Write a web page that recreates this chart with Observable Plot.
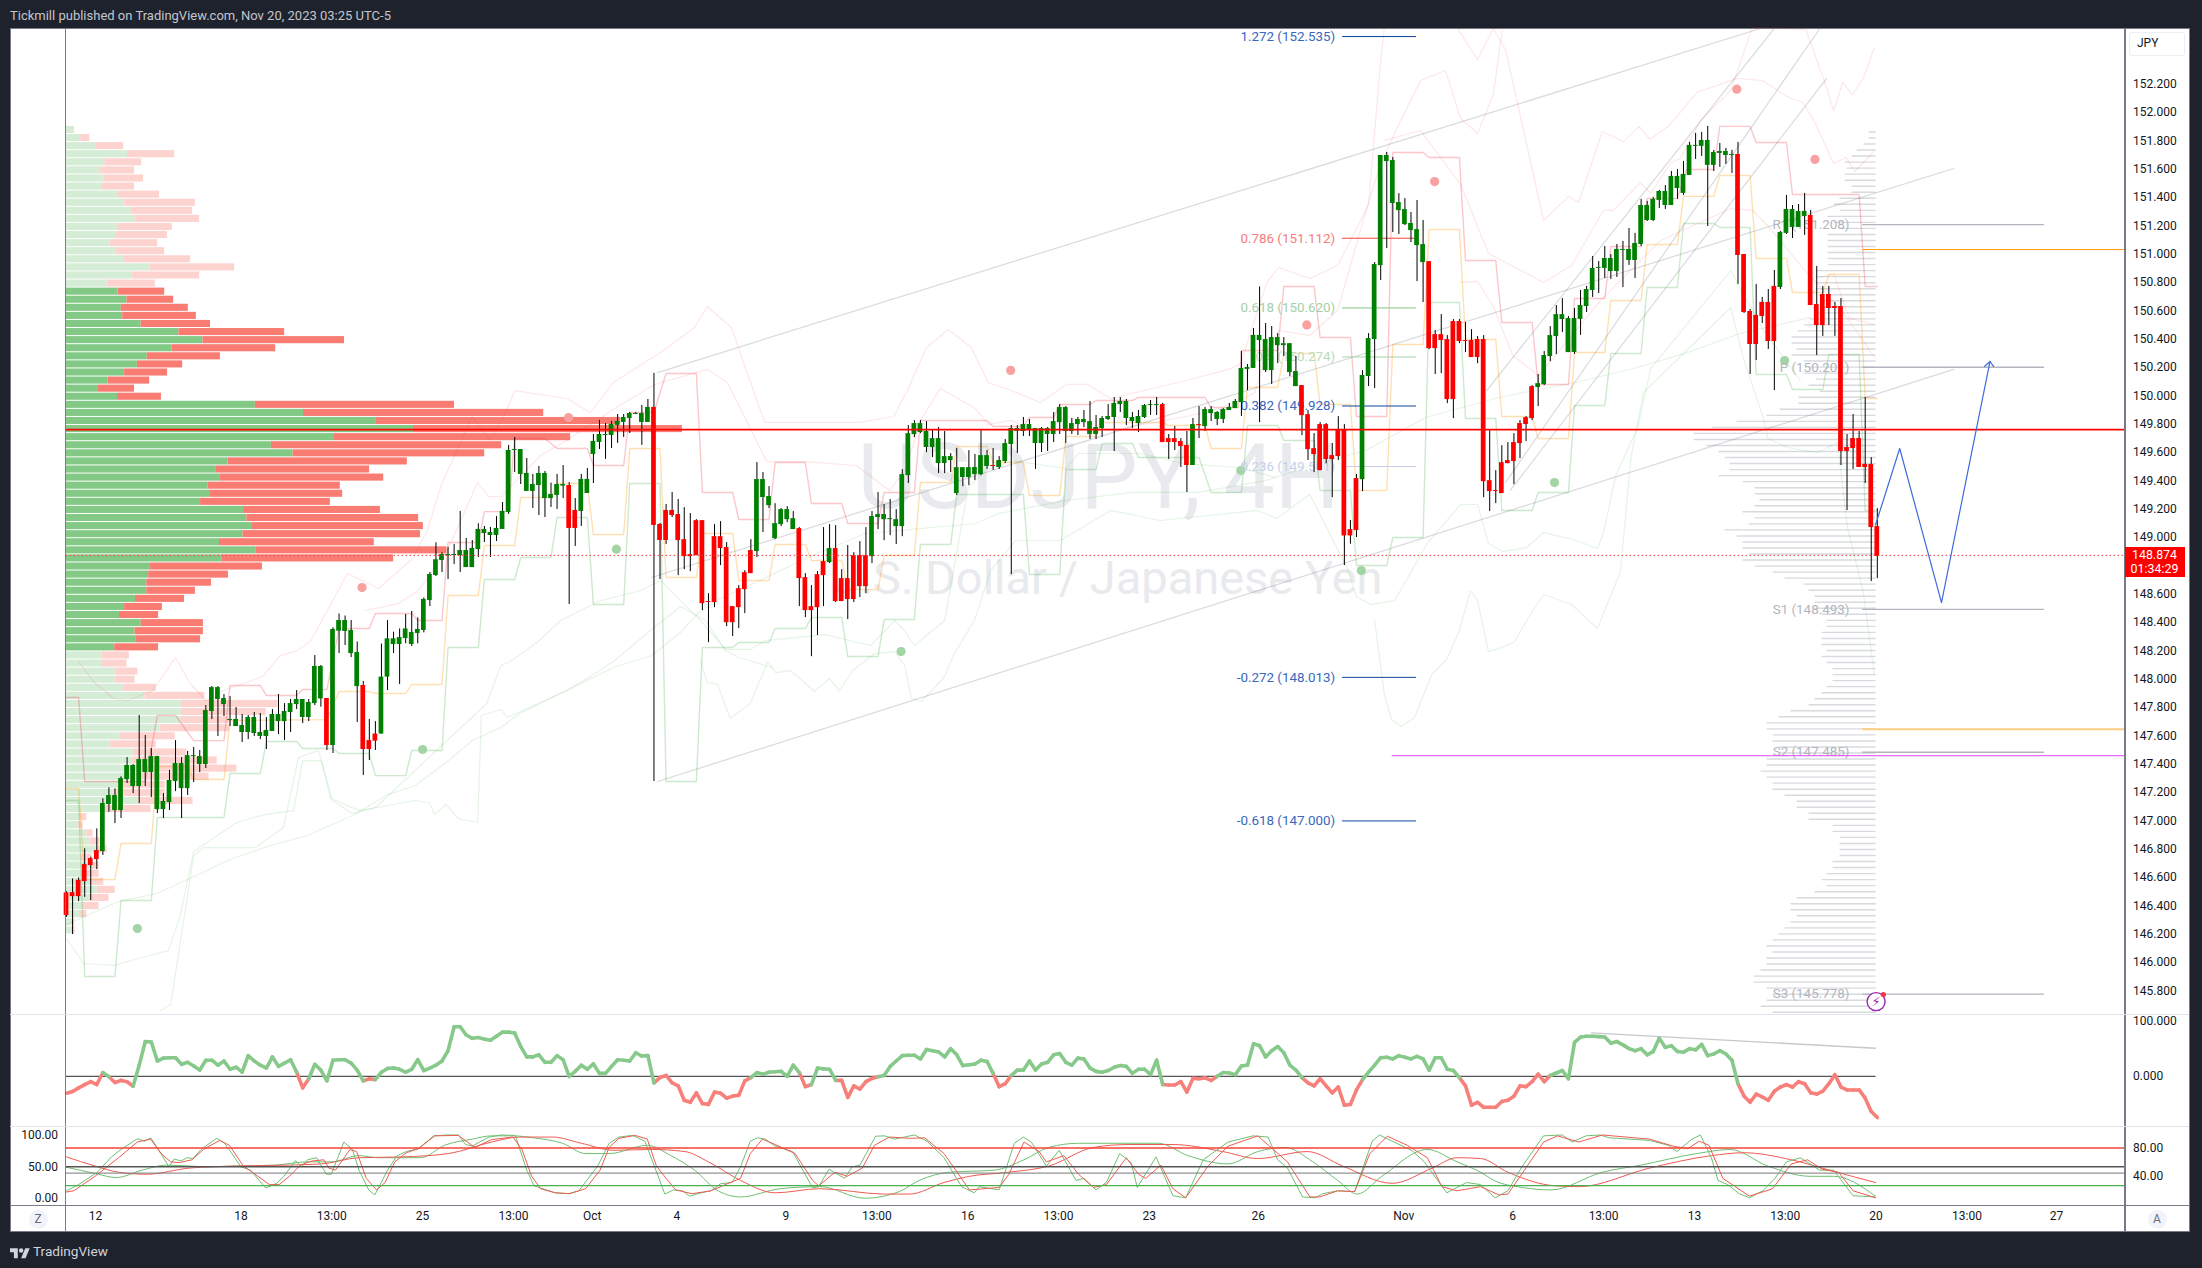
<!DOCTYPE html>
<html><head><meta charset="utf-8"><title>USDJPY 4H</title>
<script src="https://cdn.jsdelivr.net/npm/d3@7"></script>
<script src="https://cdn.jsdelivr.net/npm/@observablehq/plot@0.6"></script>
<style>
html,body{margin:0;padding:0;background:#1e222d;}
body{position:relative;width:2202px;height:1268px;overflow:hidden;font-family:Roboto,"Liberation Sans",sans-serif;}
.abs{position:absolute;}
svg.plot-pane{position:absolute;left:10px;background:transparent;}
</style></head><body>
<script>
const bodyHigh=[146.492,146.494,146.581,146.692,146.734,146.791,147.123,147.179,147.179,147.299,
147.391,147.391,147.433,147.433,147.454,147.454,147.137,147.285,147.405,147.405,
147.461,147.461,147.454,147.779,147.941,147.941,147.864,147.716,147.716,147.673,
147.730,147.730,147.624,147.638,147.751,147.751,147.772,147.828,147.857,147.857,
147.836,148.090,148.090,147.864,148.351,148.414,148.414,148.344,148.188,147.956,
147.567,147.613,148.015,148.285,148.285,148.294,148.355,148.330,148.351,148.563,
148.739,148.843,148.880,148.880,148.880,148.908,148.908,148.923,149.057,149.057,
149.035,149.064,149.184,149.614,149.621,149.621,149.452,149.374,149.452,149.452,
149.304,149.374,149.374,149.367,149.191,149.410,149.410,149.678,149.727,149.727,
149.798,149.819,149.847,149.875,149.875,149.875,149.918,149.918,149.092,149.191,
149.191,149.162,148.985,148.879,149.119,149.119,148.548,149.006,149.006,148.929,
148.512,148.639,148.752,148.908,149.409,149.409,149.289,149.098,149.197,149.197,
149.133,149.063,148.717,148.512,148.738,148.830,148.922,148.922,148.710,148.710,
148.872,148.872,148.872,149.148,149.162,149.162,149.133,149.126,149.444,149.733,
149.804,149.804,149.748,149.698,149.698,149.571,149.571,149.493,149.493,149.493,
149.494,149.578,149.578,149.508,149.543,149.663,149.769,149.769,149.797,149.797,
149.769,149.769,149.769,149.818,149.917,149.917,149.804,149.833,149.833,149.818,
149.776,149.840,149.854,149.946,149.960,149.960,149.847,149.854,149.931,149.938,
149.938,149.938,149.698,149.698,149.677,149.649,149.797,149.797,149.903,149.903,
149.882,149.903,149.917,149.960,150.193,150.200,150.426,150.426,150.397,150.411,
150.411,150.368,150.368,150.171,150.072,149.867,149.627,149.797,149.797,149.578,
149.761,149.761,149.056,149.416,150.143,150.404,150.926,151.696,151.696,151.660,
151.364,151.314,151.216,151.173,151.067,150.947,150.432,150.432,150.397,150.524,
150.524,150.390,150.390,150.397,150.397,149.401,149.331,149.528,149.543,149.670,
149.804,149.846,150.065,150.086,150.284,150.425,150.573,150.573,150.545,150.546,
150.637,150.750,150.899,150.906,150.969,150.969,151.033,151.033,151.033,151.075,
151.343,151.343,151.386,151.442,151.442,151.548,151.548,151.562,151.767,151.767,
151.802,151.802,151.717,151.724,151.724,151.703,151.703,150.997,150.595,150.567,
150.659,150.659,150.772,151.153,151.315,151.315,151.301,151.301,151.273,150.644,
150.715,150.715,150.630,150.630,149.635,149.699,149.699,149.515,149.515,149.077];
const bodyLow=[146.332,146.466,146.466,146.572,146.685,146.727,146.784,147.116,147.073,147.073,
147.292,147.243,147.243,147.341,147.341,147.080,147.080,147.130,147.278,147.228,
147.228,147.454,147.398,147.398,147.772,147.857,147.821,147.708,147.666,147.624,
147.624,147.617,147.596,147.596,147.631,147.701,147.701,147.765,147.821,147.730,
147.730,147.828,147.861,147.532,147.532,148.339,148.337,148.181,147.948,147.504,
147.504,147.563,147.613,148.015,148.245,148.245,148.287,148.245,148.323,148.344,
148.555,148.732,148.838,148.873,148.873,148.873,148.788,148.788,148.915,149.028,
149.014,149.014,149.057,149.177,149.614,149.445,149.325,149.325,149.367,149.275,
149.275,149.297,149.363,149.064,149.064,149.184,149.311,149.586,149.671,149.720,
149.720,149.791,149.812,149.840,149.868,149.812,149.812,149.085,148.979,148.979,
149.155,148.978,148.865,148.865,148.872,148.533,148.541,148.541,148.922,148.399,
148.399,148.505,148.632,148.745,148.901,149.282,149.225,148.992,149.091,149.126,
149.056,148.710,148.484,148.484,148.505,148.731,148.823,148.548,148.548,148.562,
148.562,148.653,148.653,148.865,149.141,149.126,149.126,149.077,149.077,149.437,
149.726,149.741,149.635,149.635,149.522,149.522,149.543,149.310,149.423,149.423,
149.444,149.444,149.501,149.501,149.494,149.536,149.656,149.750,149.748,149.762,
149.663,149.663,149.727,149.727,149.811,149.748,149.748,149.797,149.811,149.727,
149.727,149.769,149.833,149.847,149.938,149.840,149.818,149.804,149.847,149.931,
149.931,149.670,149.670,149.670,149.642,149.508,149.508,149.790,149.783,149.875,
149.833,149.833,149.896,149.910,149.953,150.186,150.193,150.390,150.178,150.178,
150.354,150.354,150.164,150.065,149.860,149.620,149.585,149.472,149.550,149.550,
149.571,149.011,149.011,149.049,149.408,150.136,150.397,150.919,151.653,151.357,
151.307,151.208,151.166,151.060,150.940,150.333,150.333,150.390,149.973,149.973,
150.383,150.383,150.270,150.270,149.394,149.324,149.324,149.310,149.521,149.536,
149.663,149.797,149.839,150.058,150.079,150.277,150.418,150.538,150.305,150.306,
150.539,150.630,150.743,150.899,150.899,150.877,150.877,151.026,150.955,150.955,
151.068,151.237,151.237,151.379,151.343,151.343,151.463,151.428,151.555,151.760,
151.760,151.626,151.626,151.710,151.696,151.696,150.990,150.588,150.362,150.362,
150.560,150.383,150.383,150.764,151.146,151.188,151.188,151.266,150.637,150.496,
150.496,150.616,150.616,149.607,149.607,149.628,149.494,149.494,149.070,148.866];
const wickHigh=[146.50,146.591,146.598,146.803,146.744,146.944,147.156,147.233,147.226,147.311,
147.447,147.398,147.744,147.603,147.511,147.456,147.193,147.356,147.567,147.447,
147.490,147.518,147.497,147.814,147.948,147.948,147.892,147.878,147.800,147.751,
147.744,147.765,147.758,147.730,147.786,147.892,147.828,147.857,147.920,147.857,
147.857,148.167,148.097,147.864,148.363,148.460,148.446,148.414,148.263,147.984,
147.716,147.701,148.248,148.414,148.332,148.355,148.457,148.478,148.433,148.574,
148.753,148.963,148.892,148.930,148.951,149.184,148.993,148.979,149.097,149.078,
149.071,149.148,149.247,149.650,149.706,149.621,149.558,149.445,149.501,149.466,
149.384,149.445,149.508,149.388,149.275,149.445,149.487,149.727,149.826,149.805,
149.819,149.868,149.868,149.883,149.883,149.932,149.974,150.158,149.099,149.233,
149.318,149.268,149.211,149.169,149.126,149.119,148.604,149.091,149.112,148.964,
148.512,148.661,148.766,148.985,149.529,149.458,149.359,149.239,149.204,149.218,
149.183,149.070,148.745,148.661,148.759,149.070,149.091,149.084,148.773,148.943,
148.893,148.971,149.070,149.183,149.317,149.232,149.268,149.197,149.479,149.790,
149.825,149.825,149.818,149.755,149.776,149.748,149.592,149.628,149.493,149.613,
149.586,149.762,149.614,149.628,149.571,149.691,149.790,149.790,149.847,149.833,
149.769,149.776,149.776,149.882,149.938,149.924,149.840,149.847,149.896,149.960,
149.861,149.854,149.938,149.988,149.988,149.974,149.882,149.896,149.938,149.967,
149.988,149.946,149.727,149.783,149.698,149.748,149.840,149.924,149.917,149.924,
149.889,149.910,149.946,149.974,150.313,150.221,150.475,150.768,150.510,150.489,
150.439,150.411,150.368,150.277,150.072,149.896,149.733,149.811,149.804,149.663,
149.853,149.797,149.120,149.445,150.178,150.439,150.940,151.696,151.717,151.681,
151.427,151.392,151.293,151.378,151.237,150.947,150.460,150.573,150.425,150.538,
150.538,150.517,150.467,150.418,150.425,149.754,149.472,149.648,149.670,149.733,
149.825,149.853,150.072,150.150,150.312,150.488,150.637,150.686,150.559,150.616,
150.743,150.772,150.983,150.948,151.054,150.997,151.068,151.089,151.181,151.146,
151.386,151.372,151.400,151.449,151.484,151.583,151.597,151.654,151.788,151.852,
151.859,151.901,151.732,151.781,151.746,151.732,151.788,150.997,150.609,150.786,
150.694,150.750,150.884,151.160,151.414,151.343,151.350,151.428,151.308,150.913,
150.772,150.772,150.659,150.687,149.727,149.868,149.748,149.988,149.564,149.204];
const wickLow=[146.32,146.198,146.431,146.461,146.438,146.657,146.756,147.061,146.981,147.017,
147.264,147.193,147.123,147.243,147.165,147.052,147.017,147.073,147.207,147.017,
147.179,147.271,147.341,147.370,147.716,147.596,147.737,147.666,147.666,147.553,
147.574,147.596,147.574,147.504,147.631,147.610,147.567,147.624,147.786,147.687,
147.701,147.814,147.803,147.497,147.476,148.181,148.238,148.153,147.694,147.320,
147.426,147.497,147.613,147.920,148.181,147.963,148.250,148.231,148.250,148.327,
148.513,148.725,148.753,148.704,148.810,148.753,148.788,148.788,148.859,148.965,
148.859,148.972,149.057,149.163,149.459,149.374,149.325,149.205,149.155,149.141,
149.212,149.198,149.275,148.527,148.937,149.078,149.311,149.381,149.621,149.551,
149.628,149.664,149.706,149.734,149.868,149.650,149.812,147.278,148.704,148.951,
149.141,148.731,148.773,148.759,148.872,148.484,148.258,148.505,148.802,148.371,
148.301,148.357,148.463,148.745,148.858,149.035,149.204,148.985,149.077,149.105,
149.056,148.512,148.435,148.159,148.308,148.512,148.816,148.541,148.548,148.421,
148.541,148.576,148.604,148.816,149.056,148.978,149.013,148.950,149.006,149.381,
149.705,149.733,149.599,149.564,149.451,149.451,149.458,149.296,149.359,149.366,
149.402,149.437,149.480,149.473,149.480,149.522,148.738,149.593,149.713,149.713,
149.480,149.600,149.607,149.670,149.727,149.663,149.727,149.720,149.776,149.691,
149.691,149.706,149.826,149.607,149.882,149.790,149.769,149.741,149.840,149.861,
149.861,149.670,149.550,149.614,149.494,149.317,149.508,149.698,149.748,149.818,
149.790,149.804,149.896,149.910,149.854,150.037,150.193,149.811,150.164,150.080,
150.227,150.277,150.136,150.065,149.719,149.543,149.458,149.472,149.521,149.281,
149.543,148.802,148.953,149.000,149.324,150.065,150.051,150.813,151.039,151.152,
151.138,151.201,151.081,150.806,150.658,150.326,150.150,150.157,149.945,149.839,
150.368,150.305,150.270,150.227,149.281,149.183,149.239,149.310,149.521,149.373,
149.557,149.677,149.825,149.924,150.072,150.241,150.291,150.446,150.305,150.292,
150.426,150.588,150.694,150.722,150.828,150.821,150.835,150.764,150.920,150.828,
151.054,151.230,151.230,151.322,151.315,151.343,151.386,151.414,151.555,151.668,
151.689,151.195,151.583,151.612,151.633,151.569,150.786,150.581,150.150,150.249,
150.510,150.327,150.037,150.750,151.139,151.110,151.188,151.132,150.637,150.284,
150.419,150.496,150.419,149.508,149.190,149.480,149.494,149.381,148.689,148.710];
const redBarRanges=[[0,5],[43,43],[49,51],[83,84],[97,113],[121,125],[127,132],[153,153],[181,185],[187,187],[204,213],[225,242],[276,282],[288,299]];

const rsiValues=[-30.8,-27.8,-21,-15,-9.8,-15,6.8,-.8,-11.3,-7.5,
-9.8,-18,20.3,63.1,62.4,27.8,33.1,33.8,33.8,21.8,
25.5,18.8,11.3,29.3,29.3,20.3,27.8,12.8,16.5,7.5,
37.6,27.8,20.3,15,35.3,18,24,30.1,7.5,-21,
-4.5,21.8,11.3,-8.3,29.3,30.1,30.1,24,11.3,-8.3,
-4.5,-6,7.5,14.3,15,12.8,7.5,12.8,30.1,10.5,
15,20.3,27.8,46.6,90.2,90.2,75.1,69.1,70.6,67.6,
65.4,72.9,80.4,80.4,78.9,54.1,35.3,35.3,39.1,25.5,
25.5,37.6,30.1,0,9,20.3,12.8,22.5,5.3,5.3,
18,30.1,29.3,27.8,42.8,36.8,37.6,-12,-2.3,1.5,
-12,-17.3,-43.6,-47.3,-30.1,-49.6,-51.1,-28.6,-30.8,-39.8,
-36.1,-34.6,-8.3,-2.3,6.8,3.8,7.5,8.3,9,0,
20.3,6.8,-18.8,-15,15,13.5,12.8,-7.5,-7.5,-38.3,
-17.3,-23.3,-9.8,-3.8,-.8,1.5,18,27.8,37.6,38.3,
38.3,31.6,48.8,46.6,44.3,35.3,50.3,39.1,19.5,21,
22.5,29.3,27,5.3,-18.8,-13.5,1.5,11.3,11.3,27.8,
11.3,22.5,25.5,39.1,41.3,25.5,20.3,33.1,31.6,15,
9,7.5,10.5,16.5,19.5,18,5.3,12.8,12.8,3,
29.3,-15,-15.8,-15.8,-9.8,-28.6,-3.8,-4.5,-3,-7.5,
0,6.8,6,3,18.8,20.3,59.4,55.6,35.3,46.6,
54.1,42.8,20.3,11.3,-2.3,-12,-17.3,-4.5,-17.3,-30.1,
-19.5,-52.6,-51.1,-24.8,-6,7.5,20.3,33.8,34.6,31.6,
37.6,34.6,31.6,36.1,31.6,11.3,33.8,33.8,12.8,10.5,
-2.3,-17.3,-52.6,-47.3,-56.3,-56.3,-56.3,-45.8,-43.6,-36.1,
-17.3,-18.8,-9.8,3.8,-9.8,1.5,6,10.5,-4.5,61.6,
71.4,72.9,72.9,72.1,71.4,60.1,63.1,57.1,50.3,46.6,
50.3,39.1,45.1,69.1,52.6,55.6,45.1,43.6,50.3,48.1,
57.9,37.6,40.6,46.6,40.6,29.3,-13.5,-36.1,-47.3,-32.3,
-37.6,-43.6,-27,-19.5,-15,-19.5,-9.8,-13.5,-30.1,-32.3,
-27,-13.5,3,-19.5,-24.8,-24.8,-24.8,-39.8,-63.9,-75.1];
const rsiTrend=[[251.8,79],[298.7,51]];

const stochFastGreen=[[0,11.8],[2,21.7],[5.1,41.4],[7.4,65.8],[9,77.6],[11.7,94.7],[12.9,90.8],[13.9,96.1],[15.2,77.6],[16.9,50],[17.8,62.5],[18.9,59.2],[19.9,64.5],[20.9,63.2],[22.2,77.6],[24.8,95.4],[26.1,87.5],[27.3,71.1],[28.8,50],[30.4,44.7],[31.8,28.3],[32.9,16.4],[34.7,23.7],[35.9,34.9],[37.8,59.9],[38.8,50],[39.8,61.2],[41.3,64.5],[42.9,38.2],[43.7,38.2],[44.8,64.5],[45.8,89.5],[47.2,77.6],[48.3,44.7],[49.9,13.2],[50.9,5.3],[51.8,21.7],[53,44.7],[54.6,67.8],[56.1,74.3],[58.1,78.9],[59.6,90.8],[60.6,99.3],[62.8,100.7],[64.7,100.7],[65.9,85.5],[67,82.9],[68.2,89.5],[69.8,97.4],[71.7,100.7],[74.1,100],[76,44.7],[77.2,19.7],[80.7,8.6],[83,7.2],[84.6,11.8],[87.7,51.3],[89.6,87.5],[91.2,97.4],[93.5,100],[95.5,90.8],[98.8,6.6],[100.2,13.2],[101.7,11.8],[102.9,3.3],[104.8,8.6],[106.4,11.8],[108,23],[109.9,25],[111.3,50],[112.9,90.8],[114.1,96.1],[115.4,94.1],[117,82.9],[119.9,74.3],[123.2,16.4],[124.2,18.4],[125.9,46.1],[128.5,31.6],[129.7,50],[131,52.6],[133.6,98.7],[135.1,99.3],[136.7,94.1],[140,100.7],[142.1,90.8],[144.9,64.5],[147.8,18.4],[149.9,8.6],[150.7,18.4],[154,13.2],[156.5,87.5],[158,97.4],[159.3,89.5],[161.8,51.3],[163.9,76.3],[166.7,28.3],[168,31.6],[170,13.2],[171.7,25],[173.9,71.1],[175.8,56.6],[176.8,17.1],[179.9,65.8],[182.7,3.9],[184.8,.7],[187.7,61.2],[191.8,89.5],[195.9,99.3],[198.4,97.4],[200,61.2],[201.6,48],[204.1,2],[206.2,.7],[207.4,7.2],[209.9,11.8],[212.7,10.5],[215.6,90.8],[216.8,100.7],[218.9,90.8],[222.2,75.7],[224.2,57.9],[227.9,8.6],[231.2,25],[233.5,21.7],[235.9,.7],[238,11.8],[240.4,51.3],[243.9,99.3],[247,100.7],[248.6,89.5],[250.9,99.3],[253.2,100.7],[254.8,96.1],[261.4,92.1],[264.5,84.2],[265.9,74.3],[268.4,94.1],[269.8,100.7],[271.6,64.5],[272.7,28.3],[274.3,21.7],[276.2,7.2],[277.9,.7],[280.1,11.8],[282.1,31.6],[284,57.9],[286.3,64.5],[289.5,44.7],[291.8,44.7],[295,3.9],[298.7,2]];
const stochFastRed=[[0,9.9],[1.2,11.8],[4.7,34.9],[8.6,64.5],[11.7,89.5],[13.9,94.1],[15.6,71.1],[17.2,57.9],[18.6,56.6],[20.7,61.2],[22.6,77.6],[25.3,92.1],[26.9,84.2],[29.2,51.3],[31.6,34.9],[33.5,21.7],[35.1,21.7],[36.8,34.9],[38.6,52.6],[40.5,59.2],[42.5,61.2],[43.3,48],[44.4,44.7],[46.8,77.6],[47.9,74.3],[49.5,31.6],[51.2,13.2],[52.6,25],[54.2,57.9],[56.1,72.4],[58.1,78.9],[60.8,99.3],[64.7,100],[67.4,80.9],[70.2,93.4],[73.7,97.4],[75.2,77.6],[76.8,34.9],[78.3,15.1],[80.7,8.6],[83,7.2],[85.7,15.1],[88.1,44.7],[89.6,80.9],[91.2,95.4],[93.9,100],[95.9,94.1],[97.4,51.3],[99,31.6],[100.6,13.2],[103.3,7.2],[106.4,11.8],[109.1,23],[111.3,31.6],[112.9,71.1],[114.9,94.1],[117,85.5],[120.3,71.1],[123.2,28.3],[124.2,19.7],[126.9,41.4],[128.9,34.9],[131.4,48],[133.4,84.2],[135.9,97.4],[139.2,95.4],[141.7,96.1],[144.9,71.1],[149.1,13.2],[154,17.1],[155.6,38.2],[158.1,89.5],[160.6,74.3],[161.8,57.9],[164.7,67.8],[167.1,38.2],[169.6,17.1],[171.7,21.7],[175,64.5],[177,38.2],[178.2,31.6],[180.7,52.6],[182.7,15.1],[184.8,.7],[188.5,51.3],[191.8,82.9],[196.7,99.3],[201.6,57.9],[205.3,2],[206.9,2],[209.9,11.8],[212.7,10.5],[215.2,71.1],[218.1,98.7],[221.4,84.2],[224.7,64.5],[227.1,18.4],[229.6,11.8],[233.5,18.4],[236.5,5.3],[238,6.6],[241.2,51.3],[243.9,89.5],[246.2,99.3],[249.7,89.5],[253.6,100.7],[261.4,94.1],[265.3,82.9],[267.7,78.9],[269.6,90.8],[271.2,84.2],[273.5,31.6],[277.9,3.3],[281.7,15.1],[284.8,54.6],[287.5,61.2],[289.9,46.1],[292.6,41.4],[295,11.8],[298.7,.7]];
const stochSlowGreen=[[0,49.3],[4.7,39.5],[8.2,32.9],[12.5,44.7],[16.4,52.6],[20.3,51.3],[23.4,50],[28.1,51.3],[34.3,52.6],[39.8,57.9],[43.7,57.9],[48.3,67.8],[51.5,64.5],[58.5,64.5],[62.4,84.2],[67,94.1],[70.2,99.3],[73.7,99.3],[77.2,96.1],[81.9,87.5],[85.7,71.1],[89.6,71.1],[95.9,84.2],[99.8,67.8],[103.7,44.7],[107.6,11.8],[111.3,2],[117.8,15.1],[124.4,18.4],[131.8,0],[137.5,10.5],[140.8,28.3],[145.8,41.4],[153.2,44.7],[158.1,61.2],[162.2,80.9],[167.1,87.5],[173.7,87.5],[180.3,87.5],[185.2,67.8],[191.8,54.6],[196.7,74.3],[201.2,80.9],[205.8,57.9],[209.9,28.3],[213.1,6.6],[217.2,34.9],[224.7,77.6],[229.6,57.9],[233.5,41.4],[235.7,28.3],[240.4,17.1],[245.1,13.2],[253.6,41.4],[259.9,52.6],[269.2,71.1],[274.7,77.6],[280.9,51.3],[287.9,34.9],[291.8,34.9],[298.7,3.3]];
const stochSlowRed=[[0,65.8],[4.7,51.3],[8.6,41.4],[13.3,38.2],[20.3,48],[28.1,51.3],[35.9,52.6],[42.1,54.6],[48.3,64.5],[55.4,65.8],[63.1,71.1],[70.2,89.5],[74.8,97.4],[80.3,97.4],[85,87.5],[90.4,76.3],[96.7,77.6],[102.1,74.3],[106,57.9],[111.3,28.3],[117,8.6],[124.4,15.1],[135.1,6.6],[139.2,6.6],[144.9,25],[149.1,34.9],[155.6,41.4],[162.2,51.3],[169.6,80.9],[175.3,85.5],[182.7,85.5],[190.9,74.3],[196.7,63.2],[204.9,74.3],[210.7,51.3],[218.9,23.7],[225.5,48],[229.6,64.5],[233.5,63.2],[238,41.4],[245.8,19.7],[249.7,18.4],[261.4,48],[271.6,67.8],[277,72.4],[284.8,61.2],[291.8,42.8],[298.7,25]];

const pinkStep=[[0,147.871],[2,147.871],[3,147.278],[13,147.278],[15,147.744],[18,147.744],[21,147.567],[26,147.567],[27,147.956],[32,147.956],[33,147.885],[38,147.885],[39,147.927],[43,147.927],[45,148.358],[50,148.358],[51,148.464],[57,148.464],[58,148.414],[62,148.414],[63,148.965],[68,148.965],[69,149.183],[73,149.183],[74,149.699],[79,149.699],[81,149.628],[86,149.628],[87,149.508],[92,149.508],[93,149.882],[97,149.882],[99,150.157],[104,150.157],[105,149.318],[110,149.318],[111,149.127],[116,149.127],[117,149.529],[122,149.529],[123,149.24],[128,149.24],[129,149.099],[134,149.099],[135,149.318],[140,149.318],[141,149.826],[152,149.826],[153,149.783],[158,149.783],[159,149.847],[163,149.847],[164,149.939],[169,149.939],[170,149.967],[176,149.967],[177,149.988],[188,149.988],[189,149.917],[193.5,149.917],[194,150.32],[200,150.32],[201,150.771],[206,150.771],[207,150.411],[212,150.411],[213,149.854],[218,149.854],[219,151.717],[224,151.717],[225,151.682],[230,151.682],[231,150.955],[236,150.955],[237,150.517],[242,150.517],[243,150.08],[248,150.08],[249,150.687],[254,150.687],[255,151.054],[260,151.054],[261,151.392],[266,151.392],[267.5,151.597],[272,151.597],[273,151.901],[278,151.901],[279,151.788],[284,151.788],[285,151.42],[296,151.42],[297,150.771],[299,150.771]];
const orangeStep=[[0,147.229],[2,147.229],[3,146.586],[8,146.586],[9,146.841],[14,146.841],[15,147.384],[20,147.384],[21,147.292],[26,147.292],[27,147.709],[43,147.715],[45,147.913],[50,147.913],[51,147.899],[56,147.899],[57,147.963],[62,147.963],[63,148.591],[68,148.591],[69,148.944],[74,148.944],[75,149.282],[80,149.282],[81,149.381],[86,149.381],[87,149.021],[92,149.021],[93,149.628],[98,149.628],[99,148.718],[104,148.718],[105,149.028],[110,149.028],[111,148.697],[116,148.697],[117,148.951],[122,148.951],[123,148.838],[128,148.838],[129,148.633],[134,148.633],[135,148.873],[140,148.873],[141,149.388],[146,149.388],[147,149.642],[152,149.642],[153,149.529],[158,149.529],[159,149.296],[164,149.296],[165,149.713],[170,149.713],[171,149.812],[181,149.812],[182,149.79],[188,149.79],[189,149.628],[194,149.628],[195,150.059],[200,150.059],[201,150.299],[206,150.299],[207,149.939],[212,149.939],[213,149.332],[218,149.332],[219,150.362],[224,150.362],[225,151.174],[230,151.174],[231,150.397],[236,150.397],[237,149.854],[242,149.854],[243,149.699],[248,149.699],[249,150.306],[254,150.306],[255,150.673],[260,150.673],[261,151.068],[266,151.068],[267,151.407],[272,151.407],[273,151.555],[278,151.555],[279,150.969],[284,150.969],[285,150.729],[290,150.729],[291,150.856],[296,150.856],[297,149.981],[299,149.981]];
const greenStep=[[0,147.144],[2,147.144],[3,145.902],[8,145.902],[9,146.438],[14,146.438],[15,147.024],[26,147.024],[27,147.335],[32,147.335],[33,147.56],[38,147.56],[39,147.511],[44,147.511],[45,147.476],[50,147.476],[51,147.32],[56,147.32],[57,147.497],[62,147.497],[63,148.224],[68,148.224],[69,148.704],[74,148.704],[75,148.859],[80,148.859],[81,149.141],[86,149.141],[87,148.527],[92,148.527],[93,149.381],[98,149.381],[99,147.278],[104,147.278],[105,148.224],[110,148.224],[111,148.259],[116,148.259],[117,148.358],[122,148.358],[123,148.435],[128,148.435],[129,148.16],[134,148.16],[135,148.421],[140,148.421],[141,148.951],[146,148.951],[147,149.303],[158,149.303],[159,148.739],[164,148.739],[165,149.48],[170,149.48],[171,149.663],[176,149.663],[177,149.565],[187,149.565],[189,149.318],[194,149.318],[195,149.79],[200,149.79],[201,149.685],[206,149.685],[207,149.332],[212,149.332],[213,148.802],[218,148.802],[219,149.0],[224,149.0],[225,150.658],[230,150.658],[231,149.84],[236,149.84],[237,149.191],[242,149.191],[243,149.318],[248,149.318],[249,149.932],[254,149.932],[255,150.299],[260,150.299],[261,150.764],[266,150.764],[267,151.216],[272,151.216],[273,151.188],[278,151.188],[279,150.15],[284,150.15],[285,150.044],[290,150.044],[291,150.291],[296,150.291],[297,149.191],[299,149.191]];

const bandPinkA=[[2,148.125],[4.6,147.977],[7.8,147.864],[10.2,147.85],[14.2,147.92],[18,148.153],[20.3,147.977],[23,147.85],[25.9,147.92],[29.2,147.97],[32.4,148.02],[35.3,148.167],[38,148.2],[40.3,148.27],[43.6,148.527],[46.4,148.746],[51.5,148.64],[57,148.845],[59.6,149.05],[61.9,149.374],[67,149.854],[70,149.685],[72.8,149.91],[74,150.037],[82.6,149.981],[86.5,149.882],[90.3,150.094],[98.3,150.313],[103.7,150.482],[105.8,150.63],[109.8,150.482],[111.6,150.256],[115.3,149.812],[131.1,149.812],[136.6,149.854],[139,150.052],[142,150.341],[145.6,150.468],[149.4,150.341],[152.2,150.094],[156,150.037],[160.8,149.953],[165.1,150.08],[168.6,150.08],[172.4,149.981],[184.9,150.108],[191.9,150.186],[193.9,150.228],[198.2,150.8],[200.1,150.905],[205.3,150.828],[209.9,150.92],[215,151.35],[217,152.366],[217.6,152.6],[224,153.1],[230.2,152.557],[233,152.373],[235.6,152.592],[237.6,152.444],[243.9,151.237],[248,151.406],[249.7,151.364],[253.6,151.865],[257.1,151.795],[259.7,151.901],[261.4,151.809],[264.5,151.901],[269.2,152.14],[275.8,152.24],[280,152.225],[284.7,152.098],[286.7,152.07],[288.7,151.929],[291.8,151.639],[293.8,151.682],[295.3,151.583],[298.4,151.724]];
const bandPinkB=[[49.4,148.485],[54.8,148.534],[58.1,148.626],[60.9,148.788],[63.1,148.929],[67.9,149.388],[69.7,149.289],[71.7,149.289],[78.3,149.579],[82.6,149.685],[90.5,149.91],[97.1,150.08],[105.8,150.186],[109.1,150.094],[111.3,149.91],[115.6,149.536],[121.9,149.536],[130.4,149.508],[135.9,149.332],[138.5,149.473],[141,149.826],[144.3,150.052],[150.1,149.91],[152.2,149.797],[156,149.826],[160.8,149.734],[165.1,149.854],[172.4,149.755],[184.9,149.854],[190.4,149.91],[193.9,149.967],[196.2,150.023],[198.2,150.313],[200.1,150.461],[205.3,150.426],[209.9,150.602],[214.5,151.294],[217,151.639],[220.3,151.943],[223.6,152.225],[227.7,152.296],[230.2,151.957],[233,151.851],[235.6,152.126],[237.1,152.592],[238,153]];
const bandPinkC=[[217.6,151.802],[223.6,151.872],[230.2,151.491],[234.8,151.004],[243.9,150.8],[248.5,150.92],[253.8,151.308],[255.4,151.308],[259.9,151.505],[261.6,151.428],[264.9,151.646],[266.5,151.675],[269.8,151.943],[274.8,152.155],[278.4,152.6],[287.2,152.585],[290.1,152.239],[291.8,152.013],[293.3,152.211],[294.9,152.126],[296.7,152.239],[298.5,152.458]];
const bandPinkD=[[230.2,150.8],[233,150.807],[235.6,150.63],[238.8,150.284],[243.1,150.143],[253.3,150.673],[263.2,151.096],[274.8,151.322],[278.4,151.308],[280.9,151.202],[286.8,150.898],[293.4,150.588],[298.7,150.263]];
const bandPinkE=[[289.5,150.835],[291.8,150.863],[294.4,150.546],[298.5,150.503]];
const bandGreenA=[[0,146.269],[8.6,146.431],[14.9,146.488],[21.8,146.622],[26.6,146.721],[33.5,146.826],[39.8,146.897],[47.6,147.045],[53,147.186],[57.6,147.25],[63.1,147.426],[67,147.567],[71.7,147.659],[74.8,147.758],[82.6,147.92],[90.3,148.083],[96.6,148.167],[101.4,148.33],[104.4,148.471],[108.3,148.577],[113.8,148.682],[122,148.852],[131.9,149.028],[150.1,149.099],[153.9,149.169],[165,149.261],[176,149.318],[186.9,149.318],[198,149.402],[206.7,149.522],[214.5,149.614],[224.4,149.847],[236.5,149.988],[249.2,150.094],[259.4,150.2],[267.7,150.306],[276.4,150.44],[288,150.553]];
const bandGreenB=[[0,146.17],[2.8,145.994],[7.8,145.98],[12.5,146.036],[16.8,146.085],[18.7,146.318],[21,146.784],[28.1,146.989],[32.7,147.045],[37.5,147.073],[39,147.426],[42.1,147.426],[43.6,147.158],[48.4,147.073],[57.6,147.144],[59.9,147.13],[60.8,147.045],[62.7,147.116],[64.7,147.017],[67.9,146.989],[68.5,147.744],[71.7,147.786],[72.8,147.73],[82.6,147.92],[86.5,148.019],[90.5,148.132],[96.4,148.344],[101.4,148.513],[105.5,148.414],[108.8,148.203],[111,148.153],[116.6,148.083]];
const bandGreenC=[[15.5,145.662],[17.2,145.704],[21,146.756],[22.6,146.812],[31.2,146.812],[35.8,146.953],[38.3,147.447],[41.6,147.497],[43.9,147.144],[47.2,147.052],[51,147.095],[69.4,147.829],[71.7,148.097],[73.3,148.125],[77.9,148.266],[81.6,148.414],[88.2,148.555],[94.8,148.626],[98.1,148.697],[104.7,148.414],[108.8,148.21],[112.9,148.21],[115.4,148.273],[125.3,148.315],[129.3,148.273],[132.8,148.238],[136.7,148.414],[138.4,148.344],[140,148.238],[145,148.414],[148.9,149.353],[151.8,149.473],[156.2,149.543],[165,149.487],[167.1,149.593],[177.3,149.593],[184.3,149.522],[193.5,149.494],[199.6,149.423]];
const bandGreenD=[[104.7,148.125],[105.8,147.977],[107.5,147.963],[109.6,147.723],[112.9,147.828],[115.8,148.125],[117.1,148.047],[119.6,148.061],[123.5,147.913],[126,148.005],[127.6,147.92],[129.8,148.061],[133.4,148.181],[136.7,148.195],[138.4,148.097],[139.5,147.864],[141.2,147.843],[145,148.019],[146.6,148.181],[149.9,148.414],[152.6,148.767],[156.7,148.979],[164.1,148.979],[172.4,149.191],[180.6,149.12],[196.7,149.191],[199.8,149.134],[205.3,149.303],[211.4,148.788],[213,148.584],[215.3,148.527],[219.3,148.555],[224.7,148.958],[230.2,149.233],[233,149.233],[234.8,148.958],[237.1,148.901],[241.1,148.929],[243.9,149.035],[248.8,148.986],[252.8,148.922],[253.8,149.035],[255.8,149.438],[259.4,149.769],[261.6,150.193],[274.8,150.884],[276.4,150.757],[280.2,150.461],[286.3,150.108]];
const bandGreenE=[[216,148.414],[217.6,147.892],[218.8,147.716],[220.4,147.666],[222.6,147.73],[225.4,148.033],[227.9,148.139],[230,148.344],[231.8,148.626],[233,148.555],[234.8,148.195],[237,148.224],[239.1,148.266],[241.1,148.414],[243.9,148.598],[248.5,148.527],[252.8,148.358],[256.6,148.76],[258.3,149.558],[260.4,150.023],[274.8,150.623],[276.9,150.263],[280.2,149.84],[280.9,149.699],[284.2,149.635],[289.1,149.6],[292.4,149.67],[294.1,149.064],[296.7,148.612],[298.5,148.033]];

const trendLines=[[[97.6,150.164],[279.7,152.592]],[[97.6,147.278],[311.6,150.186]],[[96.6,148.718],[311.6,151.604]],[[234.5,150.037],[282,152.592]],[[237.6,149.388],[289.5,152.592]],[[238.4,149.332],[290.6,152.239]]];
const projection=[[298.7,149.088],[302.7,149.628],[309.6,148.541],[317.6,150.242]];
const projectionHead=[[316.7,150.207],[317.6,150.242],[318.2,150.207]];

const profileUp=[17,31,62,130,82,73,80,75,109,124,138,146,109,107,93,107,122,178,141,87,110,129,117,120,159,239,290,225,172,151,124,89,67,109,401,503,656,736,567,435,481,343,317,327,301,306,285,376,383,395,375,325,402,331,179,175,171,171,147,124,113,159,146,149,103,76,75,104,104,121,167,244,244,244,199,114,93,142,141,162,134,113,100,154,71,28,25,44,51,64,30,53,40,53,66,49,35,28,11,11];
const profileDown=[1,19,60,100,78,72,84,70,89,150,130,137,116,108,101,102,142,179,142,102,99,99,142,156,147,224,300,219,155,96,91,88,78,93,422,509,519,570,502,488,406,380,326,346,280,280,275,290,364,362,376,328,405,363,237,169,137,103,104,80,83,132,145,136,93,58,54,48,42,70,127,205,180,102,147,117,98,114,179,200,169,97,110,115,109,16,11,13,21,23,25,17,30,27,38,42,35,16,7,8];
const sessionProfile=[7,7,12,19,24,31,29,31,31,24,24,36,42,36,48,42,36,48,48,48,48,48,48,60,60,60,60,48,54,54,60,66,72,78,84,84,79,84,72,66,72,60,67,56,77,77,96,109,139,164,182,182,169,157,151,146,146,157,133,121,121,116,121,133,121,127,151,139,133,133,127,133,121,103,91,72,67,61,61,61,54,49,49,54,54,54,49,54,49,43,43,43,49,54,61,67,85,97,109,109,103,103,97,97,109,109,115,109,103,103,91,79,79,67,67,43,43,36,36,36,36,43,43,49,54,49,61,79,85,85,79,85,91,97,103,109,103,109,109,115,122,122,109,103,109,115,103];

const fibLevels=[["1.272 (152.535)",152.535,"#3a67bd","#0d3f9f"],["0.786 (151.112)",151.112,"#f77c7c","#f44336"],["0.618 (150.620)",150.62,"#a5d0a7","#81c784"],["0.5 (150.274)",150.274,"#b9dcbb","#a5d6a7"],["0.382 (149.928)",149.928,"#3a67bd","#0d47a1"],["0.236 (149.501)",149.501,"#c4d0e8","#c5d0e6"],["-0.272 (148.013)",148.013,"#3a67bd","#0d47a1"],["-0.618 (147.000)",147.0,"#3a67bd","#0d47a1"]];
const pivotLevels=[["R1 (151.208)",151.208],["P (150.201)",150.201],["S1 (148.493)",148.493],["S2 (147.485)",147.485],["S3 (145.778)",145.778]];
const pinkSignals=[[48.8,148.647],[82.9,149.847],[155.9,150.179],[204.8,150.5],[225.9,151.512],[275.8,152.164],[288.7,151.668]];
const greenSignals=[[11.7,146.241],[58.8,147.504],[90.8,148.918],[137.8,148.195],[193.9,149.473],[213.8,148.767],[245.7,149.388],[283.7,150.249]];
const priceTicks=[145.8,146,146.2,146.4,146.6,146.8,147,147.2,147.4,147.6,147.8,148,148.2,148.4,148.6,148.8,149,149.2,149.4,149.6,149.8,150,150.2,150.4,150.6,150.8,151,151.2,151.4,151.6,151.8,152,152.2];
const timeTickBars=[4.8,28.8,43.8,58.8,73.8,86.8,100.8,118.8,133.8,148.8,163.8,178.8,196.8,220.8,238.8,253.8,268.8,283.8,298.8,313.8,328.6];
const timeTickLabels=["12","18","13:00","25","13:00","Oct","4","9","13:00","16","13:00","23","26","Nov","6","13:00","13","13:00","20","13:00","27"];
const stochRightTicks=[80,34.5], stochRightLabels=["80.00","40.00"];

const FONT='Roboto, "Liberation Sans", sans-serif';
const LAST_PRICE=148.874, RED_LEVEL=149.762;
const isRed=i=>redBarRanges.some(([a,b])=>i>=a&&i<=b);
const candles=bodyHigh.map((t,i)=>({i,top:t,bot:bodyLow[i],high:wickHigh[i],low:wickLow[i],red:isRed(i)}));
const X={type:"linear",domain:[-0.07,339.9],axis:null};
const PANE_W=2180, ML=55.6, MR=65.5;
const xStart=-0.07;
// profile widths are volume units; one unit is this many bars wide on the shared x scale
const volToBars=0.07793, sessionToBars=1/6.056;
const profileRows=profileUp.map((u,k)=>({k,p:151.876-0.05705*k,u,d:profileDown[k],bright:k>=20&&k<=64}));
const sessionRows=sessionProfile.map((l,k)=>({p:151.862-0.04255*k,l}));
const line=(pts,stroke,w=1,o={})=>Plot.line(pts,{x:d=>d[0],y:d=>d[1],stroke,strokeWidth:w,clip:true,...o});
const prect=(rows,a,b,fill)=>Plot.rect(rows,{x1:a,x2:b,y1:d=>d.p-0.025,y2:d=>d.p+0.025,fill,clip:true});
const upEnd=d=>xStart+d.u*volToBars, downEnd=d=>xStart+(d.u+d.d)*volToBars;
const bright=profileRows.filter(d=>d.bright), faint=profileRows.filter(d=>!d.bright);
const BP="rgba(242,54,69,0.12)", BG="rgba(76,175,80,0.14)", TL="rgba(120,123,134,0.28)";

const main=Plot.plot({width:PANE_W,height:987,marginLeft:ML,marginRight:MR,marginTop:0,marginBottom:0,
 style:{background:"transparent",fontFamily:FONT},
 x:X,y:{domain:[145.634,152.599],axis:null},
 marks:[
  Plot.text(["USDJPY, 4H"],{x:()=>170.4,y:()=>149.205,text:d=>d,fontSize:91,fill:"#e8eaed",lineAnchor:"bottom"}),
  Plot.text(["U.S. Dollar / Japanese Yen"],{x:()=>171.7,y:()=>148.598,text:d=>d,fontSize:47,fill:"#e8eaed",lineAnchor:"bottom"}),
  prect(bright,()=>xStart,upEnd,"#83c986"),prect(bright,upEnd,downEnd,"#f97c73"),
  prect(faint,()=>xStart,upEnd,"#d5ecd7"),prect(faint,upEnd,downEnd,"#fdd3d0"),
  Plot.ruleY(sessionRows,{y:"p",x1:d=>298.8-d.l*sessionToBars,x2:298.8,stroke:"#d8dade",strokeWidth:1.4,clip:true}),
  line(bandPinkA,BP,1.2),line(bandPinkB,BP,1.2),line(bandPinkC,BP,1.2),line(bandPinkD,BP,1.2),line(bandPinkE,BP,1.2),
  line(bandGreenA,BG,1.2),line(bandGreenB,BG,1.2),line(bandGreenC,BG,1.2),line(bandGreenD,BG,1.2),line(bandGreenE,BG,1.2),
  line(pinkStep,"rgba(242,54,69,0.28)",1.4),line(orangeStep,"rgba(255,152,0,0.3)",1.4),line(greenStep,"rgba(76,175,80,0.28)",1.4),
  ...trendLines.map(t=>line(t,TL,1.2)),
  Plot.dot(pinkSignals,{x:d=>d[0],y:d=>d[1],r:4.6,fill:"#f9a0a0"}),
  Plot.dot(greenSignals,{x:d=>d[0],y:d=>d[1],r:4.6,fill:"#a3d4a5"}),
  Plot.ruleY(fibLevels,{y:d=>d[1],x1:210.7,x2:222.9,stroke:d=>d[3],strokeWidth:1}),
  Plot.text(fibLevels,{x:()=>209.5,y:d=>d[1],text:d=>d[0],fill:d=>d[2],fontSize:13.4,textAnchor:"end"}),
  Plot.ruleY(pivotLevels,{y:d=>d[1],x1:296.6,x2:326.6,stroke:"#b2b5be",strokeWidth:1.4}),
  Plot.text(pivotLevels,{x:()=>294.4,y:d=>d[1],text:d=>d[0],fill:"#b2b5be",fontSize:13.4,textAnchor:"end"}),
  Plot.ruleY([151.032],{x1:296.6,x2:339.9,stroke:"#ff9800",strokeWidth:1}),
  Plot.ruleY([147.647],{x1:296.6,x2:339.9,stroke:"#ffcc80",strokeWidth:2}),
  Plot.ruleY([147.46],{x1:218.9,x2:339.9,stroke:"#e040fb",strokeWidth:1}),
  Plot.ruleX(candles,{x:"i",y1:"low",y2:"high",stroke:"#000",strokeWidth:1,clip:true}),
  Plot.rect(candles.filter(d=>!d.red),{x1:d=>d.i-.39,x2:d=>d.i+.39,y1:"bot",y2:"top",fill:"#008000"}),
  Plot.rect(candles.filter(d=>d.red),{x1:d=>d.i-.39,x2:d=>d.i+.39,y1:"bot",y2:"top",fill:"#ff0000"}),
  Plot.ruleY([RED_LEVEL],{x1:xStart,x2:339.9,stroke:"#ff0000",strokeWidth:1.8}),
  Plot.ruleY([LAST_PRICE],{x1:xStart,x2:339.9,stroke:"#e53935",strokeWidth:1,strokeDasharray:"1.5 2.5"}),
  line(projection,"#3f6ad8",1.2),line(projectionHead,"#3f6ad8",1.2),
  Plot.dot([[298.8,145.725]],{x:d=>d[0],y:d=>d[1],r:9,fill:"#fff",stroke:"#9c27b0",strokeWidth:1.4}),
  Plot.text(["\u26A1"],{x:()=>298.8,y:()=>145.725,text:d=>d,fill:"#9c27b0",fontSize:13,fontFamily:"DejaVu Sans"}),
  Plot.dot([[300,145.775]],{x:d=>d[0],y:d=>d[1],r:2.6,fill:"#f23645"}),
  Plot.axisY({anchor:"right",ticks:priceTicks,tickFormat:d3.format(".3f"),tickSize:0,tickPadding:8,label:null,fontSize:12,color:"#131722"})
 ]});

const rsiPairs=rsiValues.slice(1).map((v,k)=>({i0:k,i1:k+1,v0:rsiValues[k],v1:v}));
const isGreen=d=>(d.v0+d.v1)/2>=0;
const rsi=Plot.plot({width:PANE_W,height:112,marginLeft:ML,marginRight:MR,marginTop:0,marginBottom:0,
 style:{background:"transparent",fontFamily:FONT},
 x:X,y:{domain:[-91.3,112.4],axis:null},
 marks:[
  Plot.ruleY([0],{x1:xStart,x2:298.8,stroke:"#555",strokeWidth:1.2}),
  line(rsiTrend,"#c6c8ce",1.4),
  Plot.link(rsiPairs.filter(d=>!isGreen(d)),{x1:"i0",x2:"i1",y1:"v0",y2:"v1",stroke:"#f7807a",strokeWidth:3.6,strokeLinecap:"round"}),
  Plot.link(rsiPairs.filter(isGreen),{x1:"i0",x2:"i1",y1:"v0",y2:"v1",stroke:"#86c98a",strokeWidth:3.6,strokeLinecap:"round"}),
  Plot.axisY({anchor:"right",ticks:[0,100],tickFormat:d3.format(".3f"),tickSize:0,tickPadding:8,label:null,fontSize:12,color:"#131722"})
 ]});

const stoch=Plot.plot({width:PANE_W,height:106,marginLeft:ML,marginRight:MR,marginTop:0,marginBottom:26.5,
 style:{background:"transparent",fontFamily:FONT},
 x:X,y:{domain:[-12.4,114.2],axis:null},
 marks:[
  line(stochSlowGreen,"#6fbf73",1,{curve:"monotone-x"}),line(stochSlowRed,"#ef5b52",1,{curve:"monotone-x"}),
  line(stochFastGreen,"#6fbf73",1),line(stochFastRed,"#ef5b52",1),
  Plot.ruleY([50],{x1:xStart,x2:339.9,stroke:"#555",strokeWidth:1.4}),
  Plot.ruleY([40],{x1:xStart,x2:339.9,stroke:"#777",strokeWidth:1}),
  Plot.ruleY([80],{x1:xStart,x2:339.9,stroke:"#f44336",strokeWidth:1.3}),
  Plot.ruleY([20],{x1:xStart,x2:339.9,stroke:"#4caf50",strokeWidth:1.3}),
  Plot.axisY({anchor:"left",ticks:[0,50,100],tickFormat:d3.format(".2f"),tickSize:0,tickPadding:8,label:null,fontSize:12,color:"#131722"}),
  Plot.axisY({anchor:"right",ticks:stochRightTicks,tickFormat:(d,i)=>stochRightLabels[i],tickSize:0,tickPadding:8,label:null,fontSize:12,color:"#131722"}),
  Plot.text(timeTickBars.map((b,i)=>({b,t:timeTickLabels[i]})),{x:"b",text:"t",frameAnchor:"bottom",dy:13.5,fontSize:12,fill:"#131722",fontWeight:d=>/[A-Z]/.test(d.t)?"700":"400"})
 ]});

function div(css,html=""){const e=document.createElement("div");e.className="abs";e.style.cssText=css;e.innerHTML=html;document.body.appendChild(e);return e;}
div("left:10px;top:27.5px;width:2179.5px;height:1204.5px;background:#fff;box-sizing:border-box;border:1px solid #787b86;");
[[main,27],[rsi,1014],[stoch,1126]].forEach(([s,t])=>{s.classList.add("plot-pane");s.style.top=t+"px";s.style.left="10px";s.style.maxWidth="none";document.body.appendChild(s);});
// pane dividers
div("left:65px;top:28px;width:1px;height:1204px;background:#787b86;");
div("left:2124px;top:28px;width:1.6px;height:1204px;background:#787b86;");
div("left:10px;top:1013.5px;width:2179px;height:1.5px;background:#e0e3eb;");
div("left:10px;top:1125.5px;width:2179px;height:1.5px;background:#e0e3eb;");
div("left:10px;top:1205px;width:2179px;height:1px;background:#787b86;");
// chrome text
div("left:10px;top:8px;color:#c4c6cd;font-size:13px;line-height:15px;white-space:nowrap;","Tickmill published on TradingView.com, Nov 20, 2023 03:25 UTC-5");
div("left:2129px;top:32px;width:56px;height:24px;box-sizing:border-box;border:1.5px solid #eceef2;border-radius:3px;color:#131722;font-size:12px;line-height:21px;padding-left:7px;background:#fff;","JPY");
div("left:2124.5px;top:547px;width:60px;height:30px;background:#ff0000;color:#fff;font-size:12.4px;line-height:14.5px;text-align:center;padding-top:.5px;box-sizing:border-box;","148.874<br>01:34:29");
div("left:28.5px;top:1209.5px;width:19px;height:19px;border-radius:50%;background:#f0f3fa;color:#6a6d78;font-size:12px;line-height:19px;text-align:center;","Z");
div("left:2147.5px;top:1209.5px;width:19px;height:19px;border-radius:50%;background:#f0f3fa;color:#6a6d78;font-size:12px;line-height:19px;text-align:center;","A");
div("left:10px;top:1243.5px;width:20px;height:13px;",'<svg viewBox="0 0 36 22" width="20" height="12.5"><path fill="#d1d4dc" d="M14 22H7V11H0V4h14v18zM28 22h-8l7.5-18h8L28 22z"/><circle fill="#d1d4dc" cx="20" cy="8" r="4"/></svg>');
div("left:33px;top:1243px;color:#d1d4dc;font-size:13.6px;line-height:17px;white-space:nowrap;","TradingView");
</script>
</body></html>
